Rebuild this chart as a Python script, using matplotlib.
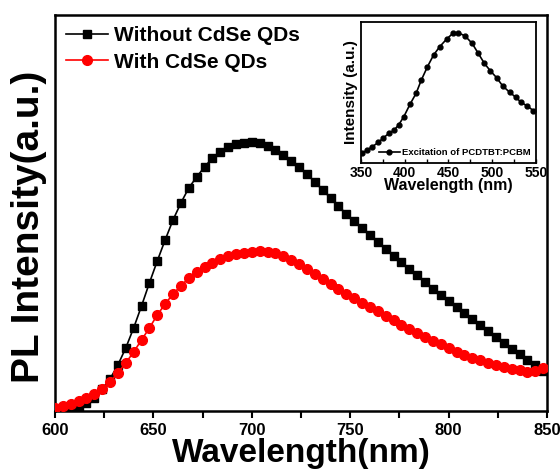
import numpy as np
import matplotlib
matplotlib.use("Agg")
import matplotlib.pyplot as plt

plt.rcParams['font.family'] = ['Liberation Sans', 'DejaVu Sans']
plt.rcParams['font.weight'] = 'bold'

# Main chart data (wavelength in nm, intensity in arbitrary units)
wl = np.arange(600, 849, 4)
without_qd = [1, 0, 0, 1, 8, 13, 22, 32, 46, 63, 83, 105, 128, 150, 171, 191,
              208, 223, 234, 244, 253, 259, 264, 267, 268, 269, 268, 265, 261, 256,
              250, 244, 237, 229, 221, 213, 205, 197, 190, 183, 176, 169, 162, 155,
              149, 142, 136, 129, 122, 116, 110, 104, 98, 92, 86, 80, 74, 68, 62,
              57, 51, 46, 40]
with_qd = [3, 5, 7, 10, 13, 17, 22, 29, 38, 48, 59, 71, 83, 96, 107, 117,
           125, 133, 139, 144, 148, 152, 155, 157, 158, 159, 160, 159, 158, 155,
           151, 147, 142, 137, 132, 127, 122, 117, 113, 108, 104, 100, 95, 91,
           86, 82, 78, 74, 70, 67, 63, 59, 56, 53, 51, 48, 46, 44, 42, 41,
           39, 40, 43]

# Inset data: excitation spectrum
ex_wl = [351, 357, 363, 370, 375, 382, 388, 393, 399, 406, 413, 419, 426, 433,
         440, 448, 455, 461, 469, 477, 484, 491, 498, 505, 512, 520, 527, 533,
         540, 547]
ex_int = [29, 39, 49, 62, 74, 89, 99, 114, 139, 176, 209, 249, 289, 324,
          349, 372, 389, 391, 381, 359, 329, 299, 276, 256, 231, 212, 197, 182,
          171, 157]

fig = plt.figure(figsize=(5.6, 4.76), dpi=100)
ax = fig.add_axes([0.098, 0.1366, 0.879, 0.832])

ax.plot(wl, without_qd, color='black', marker='s', markersize=6, lw=1.2,
        label='Without CdSe QDs', zorder=3)
ax.plot(wl, with_qd, color='red', marker='o', markersize=7, lw=1.2,
        label='With CdSe QDs', zorder=4)

ax.set_xlim(600, 850)
ax.set_ylim(0, 396)
ax.set_xticks([600, 650, 700, 750, 800, 850])
ax.set_xticks(np.arange(625, 850, 50), minor=True)
ax.set_yticks([])
ax.tick_params(axis='x', which='both', direction='out', length=5, width=1.5,
               labelsize=12, pad=4)
for lbl in ax.get_xticklabels():
    lbl.set_fontweight('bold')
for sp in ax.spines.values():
    sp.set_linewidth(1.8)
ax.set_xlabel('Wavelength(nm)', fontsize=24, fontweight='bold', labelpad=0)
ax.set_ylabel('PL Intensity(a.u.)', fontsize=28, fontweight='bold')
ax.yaxis.set_label_coords(-0.017, 0.465)

leg = ax.legend(loc='upper left', frameon=False,
                prop={'weight': 'bold', 'size': 15}, handlelength=2.0,
                handletextpad=0.3, borderaxespad=0.2, labelspacing=0.35,
                borderpad=0.35)

# Inset
ax2 = fig.add_axes([0.6446, 0.6576, 0.3125, 0.2962])
ax2.plot(ex_wl, ex_int, color='black', marker='o', markersize=3.5, lw=1.2,
         label='Excitation of PCDTBT:PCBM')
ax2.set_xlim(350, 550)
ax2.set_ylim(0, 423)
ax2.set_xticks([350, 400, 450, 500, 550])
ax2.set_xticks(np.arange(375, 550, 50), minor=True)
ax2.set_yticks([])
ax2.tick_params(axis='x', which='both', direction='in', length=3, width=1,
                labelsize=10, pad=2)
for lbl in ax2.get_xticklabels():
    lbl.set_fontweight('bold')
for sp in ax2.spines.values():
    sp.set_linewidth(1.3)
ax2.set_xlabel('Wavelength (nm)', fontsize=11.5, fontweight='bold', labelpad=-1)
ax2.set_ylabel('Intensity (a.u.)', fontsize=11, fontweight='bold', labelpad=2)
ax2.legend(loc='lower right', frameon=False, prop={'weight': 'bold', 'size': 6.8},
           handlelength=2.2, handletextpad=0.2, borderaxespad=0.2)

fig.savefig('out.png', dpi=100)
